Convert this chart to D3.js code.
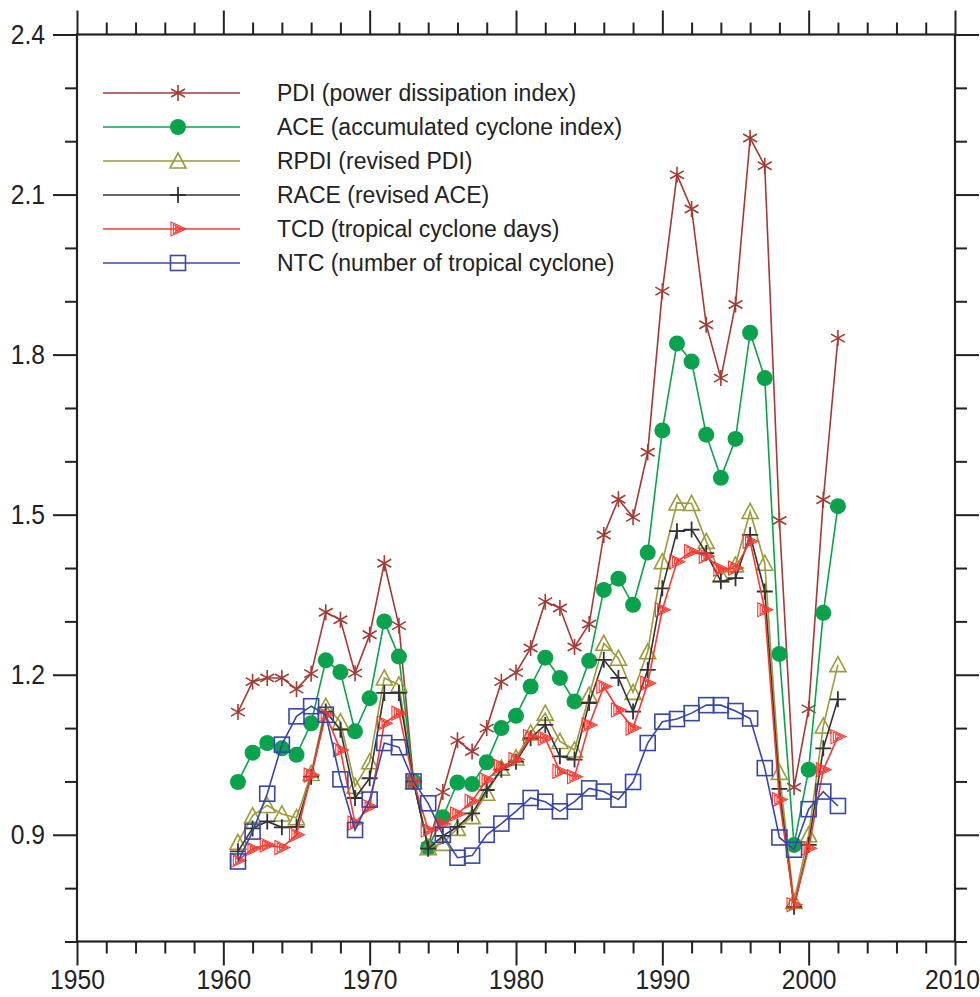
<!DOCTYPE html>
<html>
<head>
<meta charset="utf-8">
<script src="https://cdn.jsdelivr.net/npm/d3@7"></script>
<style>
  body { margin: 0; background: #fff; }
  svg { display: block; }
  .tick text { font-family: "Liberation Sans", Arial, sans-serif; font-size: 28px; fill: #222; }
  .legend text { font-family: "Liberation Sans", Arial, sans-serif; font-size: 23px; fill: #222; }
</style>
</head>
<body>
<svg width="980" height="997"></svg>
<script>
// years on the x axis
const years = [1961,1962,1963,1964,1965,1966,1967,1968,1969,1970,1971,1972,1973,1974,1975,1976,1977,1978,1979,1980,
  1981,1982,1983,1984,1985,1986,1987,1988,1989,1990,1991,1992,1993,1994,1995,1996,1997,1998,1999,2000,2001,2002];

const pdi = [1.13,1.187,1.194,1.194,1.173,1.202,1.317,1.303,1.203,1.275,1.409,1.292,1.0,0.878,0.98,1.077,1.056,1.1,1.187,1.204,
  1.25,1.337,1.325,1.252,1.295,1.462,1.529,1.495,1.617,1.919,2.137,2.073,1.856,1.756,1.894,2.206,2.154,1.489,0.989,1.136,1.528,1.831];
const ace = [0.999,1.054,1.072,1.062,1.05,1.109,1.227,1.205,1.094,1.156,1.3,1.234,1.0,0.876,0.933,0.998,0.995,1.036,1.1,1.123,
  1.178,1.232,1.194,1.15,1.226,1.359,1.38,1.331,1.429,1.658,1.821,1.787,1.65,1.569,1.642,1.841,1.756,1.239,0.881,1.022,1.316,1.516];
const rpdi = [0.886,0.936,0.955,0.939,0.932,1.015,1.141,1.112,0.991,1.037,1.194,1.181,1.0,0.876,0.884,0.912,0.934,0.978,1.025,1.044,
  1.091,1.128,1.075,1.059,1.162,1.259,1.231,1.167,1.243,1.412,1.522,1.521,1.45,1.387,1.406,1.506,1.409,1.017,0.775,0.9,1.104,1.219];
const race = [0.869,0.912,0.925,0.914,0.915,1.009,1.131,1.097,0.969,1.006,1.166,1.166,1.0,0.874,0.898,0.915,0.94,0.984,1.022,1.037,
  1.081,1.106,1.047,1.041,1.147,1.228,1.194,1.131,1.209,1.362,1.469,1.472,1.428,1.375,1.381,1.462,1.356,0.986,0.765,0.881,1.062,1.154];
const tcd = [0.852,0.874,0.881,0.876,0.9,1.012,1.125,1.059,0.922,0.953,1.109,1.128,1.0,0.909,0.92,0.939,0.963,1.003,1.028,1.041,
  1.084,1.081,1.019,1.009,1.106,1.178,1.134,1.1,1.184,1.322,1.412,1.431,1.422,1.398,1.4,1.45,1.322,0.966,0.769,0.875,1.022,1.084];
const ntc = [0.85,0.906,0.977,1.069,1.122,1.141,1.125,1.004,0.909,0.966,1.072,1.064,1.0,0.959,0.9,0.857,0.861,0.9,0.921,0.944,
  0.969,0.962,0.944,0.962,0.987,0.981,0.966,0.999,1.072,1.112,1.117,1.128,1.143,1.143,1.132,1.118,1.025,0.895,0.872,0.948,0.981,0.954];

const seriesNames = ["PDI (power dissipation index)", "ACE (accumulated cyclone index)", "RPDI (revised PDI)",
  "RACE (revised ACE)", "TCD (tropical cyclone days)", "NTC (number of tropical cyclone)"];

const xMajor = [1950,1960,1970,1980,1990,2000,2010];
const xMinor = [1952,1954,1956,1958,1962,1964,1966,1968,1972,1974,1976,1978,1982,1984,1986,1988,1992,1994,1996,1998,2002,2004,2006,2008];
const yMajor = [0.9,1.2,1.5,1.8,2.1,2.4];
const yMinor = [0.7,0.8,1.0,1.1,1.3,1.4,1.6,1.7,1.9,2.0,2.2,2.3];

var svg = d3.select("svg"),
    plotL = 77, plotR = 955, plotT = 34.5, plotB = 941.5;

var x = d3.scaleLinear().domain([1950, 2010]).range([plotL, plotR]);
var y = d3.scaleLinear().domain([0.7, 2.4]).range([plotB, plotT]);

const series = [
  { name: seriesNames[0], values: pdi,  color: "#a33a34", mark: "asterisk" },
  { name: seriesNames[1], values: ace,  color: "#0ba24d", mark: "circle" },
  { name: seriesNames[2], values: rpdi, color: "#9c9a3a", mark: "triangle" },
  { name: seriesNames[3], values: race, color: "#333333", mark: "plus" },
  { name: seriesNames[4], values: tcd,  color: "#f43a32", mark: "tri_right" },
  { name: seriesNames[5], values: ntc,  color: "#3747a8", mark: "square" }
];

// axes: major + minor ticks on all four sides
const squeeze = 0.88; // tick labels are a narrow face in the original
function styleAxis(g) {
  g.selectAll(".domain").remove();
  g.selectAll(".tick line").attr("stroke", "#222").attr("stroke-width", 2);
}
svg.append("g").attr("transform", `translate(0,${plotB})`)
  .call(d3.axisBottom(x).tickValues(xMinor).tickSize(12).tickFormat("")).call(styleAxis);
var xAxisG = svg.append("g").attr("transform", `translate(0,${plotB})`)
  .call(d3.axisBottom(x).tickValues(xMajor).tickSize(24).tickPadding(4).tickFormat(d3.format("d"))).call(styleAxis);
xAxisG.selectAll(".tick text")
  .attr("x", function(d) { return d == 2010 ? -3 / squeeze : 0; })
  .attr("transform", `scale(${squeeze},1)`);

svg.append("g").attr("transform", `translate(0,${plotT})`)
  .call(d3.axisTop(x).tickValues(xMinor).tickSize(12).tickFormat("")).call(styleAxis);
svg.append("g").attr("transform", `translate(0,${plotT})`)
  .call(d3.axisTop(x).tickValues(xMajor).tickSize(24).tickFormat("")).call(styleAxis);

svg.append("g").attr("transform", `translate(${plotL},0)`)
  .call(d3.axisLeft(y).tickValues(yMinor).tickSize(12).tickFormat("")).call(styleAxis);
var yAxisG = svg.append("g").attr("transform", `translate(${plotL},0)`)
  .call(d3.axisLeft(y).tickValues(yMajor).tickSize(24).tickPadding(8).tickFormat(d3.format(".1f"))).call(styleAxis);
yAxisG.selectAll(".tick text")
  .attr("x", -32 / squeeze)
  .attr("transform", `scale(${squeeze},1)`);

svg.append("g").attr("transform", `translate(${plotR},0)`)
  .call(d3.axisRight(y).tickValues(yMinor).tickSize(12).tickFormat("")).call(styleAxis);
svg.append("g").attr("transform", `translate(${plotR},0)`)
  .call(d3.axisRight(y).tickValues(yMajor).tickSize(24).tickFormat("")).call(styleAxis);

svg.append("rect")
  .attr("x", plotL).attr("y", plotT)
  .attr("width", plotR - plotL).attr("height", plotB - plotT)
  .attr("fill", "none").attr("stroke", "#222").attr("stroke-width", 2.2);

// marker drawing
function drawMark(g, kind, color) {
  if (kind == "circle") {
    g.append("circle").attr("r", 8).attr("fill", color);
  } else if (kind == "asterisk") {
    g.append("path").attr("d", d3.symbol(d3.symbolAsterisk, 180)()).attr("fill", "none")
      .attr("stroke", color).attr("stroke-width", 1.6);
  } else if (kind == "plus") {
    g.append("path").attr("d", "M-8,0H8M0,-8V8").attr("fill", "none")
      .attr("stroke", color).attr("stroke-width", 1.8);
  } else if (kind == "triangle") {
    g.append("path").attr("d", "M0,-8L8,7L-8,7Z").attr("fill", "none")
      .attr("stroke", color).attr("stroke-width", 1.6);
  } else if (kind == "square") {
    g.append("rect").attr("x", -7.5).attr("y", -7.5).attr("width", 15).attr("height", 15)
      .attr("fill", "none").attr("stroke", color).attr("stroke-width", 1.6);
  } else if (kind == "tri_right") {
    [1, 0.66, 0.33].forEach(function(k) {
      g.append("path").attr("d", `M${-7*k},${-7*k}L${8*k},0L${-7*k},${7*k}Z`).attr("fill", "none")
        .attr("stroke", color).attr("stroke-width", 1.1);
    });
  }
}

var line = d3.line().x(function(d, i) { return x(years[i]); }).y(function(d) { return y(d); });

series.forEach(function(s) {
  var g = svg.append("g");
  g.append("path").datum(s.values).attr("d", line)
    .attr("fill", "none").attr("stroke", s.color).attr("stroke-width", 1.6);
  s.values.forEach(function(v, i) {
    var m = g.append("g").attr("transform", `translate(${x(years[i])},${y(v)})`);
    drawMark(m, s.mark, s.color);
  });
});

// legend
var legend = svg.append("g").attr("class", "legend");
series.forEach(function(s, i) {
  var ly = 93 + i * 34;
  var row = legend.append("g");
  row.append("line").attr("x1", 103).attr("x2", 240).attr("y1", ly).attr("y2", ly)
    .attr("stroke", s.color).attr("stroke-width", 1.6);
  drawMark(row.append("g").attr("transform", `translate(178,${ly})`), s.mark, s.color);
  row.append("text").attr("x", 277).attr("y", ly).attr("dy", "0.35em").text(s.name);
});
</script>
</body>
</html>
